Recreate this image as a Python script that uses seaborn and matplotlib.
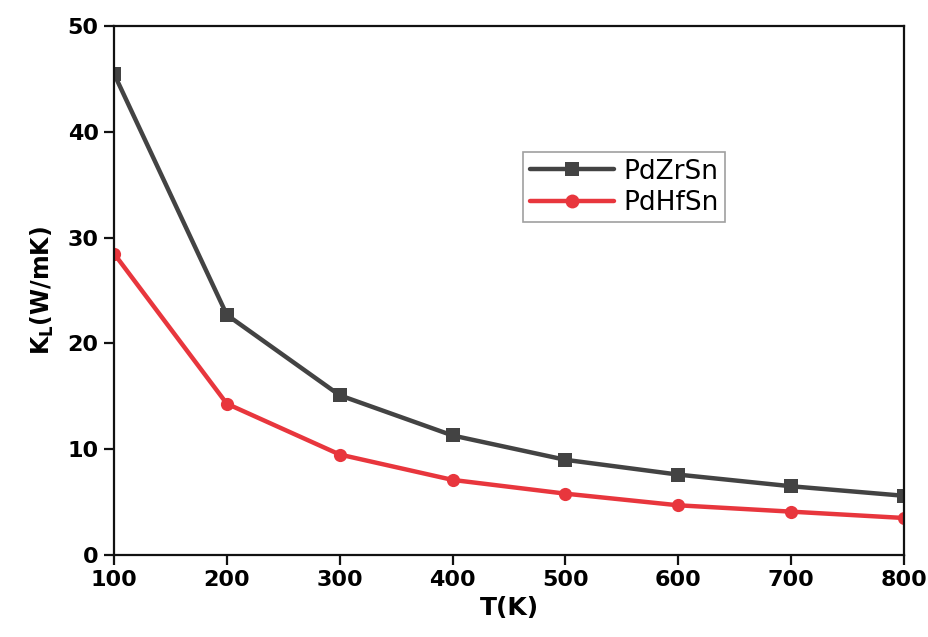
import matplotlib
matplotlib.use("Agg")
import matplotlib.pyplot as plt
import seaborn as sns
import pandas as pd

# Lattice thermal conductivity vs temperature
temperature = [100, 200, 300, 400, 500, 600, 700, 800]
kl_pdzrsn = [45.5, 22.7, 15.1, 11.3, 9.0, 7.6, 6.5, 5.6]
kl_pdhfsn = [28.5, 14.3, 9.5, 7.1, 5.8, 4.7, 4.1, 3.5]
series_names = ["PdZrSn", "PdHfSn"]

df = pd.DataFrame({
    "T": temperature * 2,
    "KL": kl_pdzrsn + kl_pdhfsn,
    "compound": [series_names[0]] * len(temperature) + [series_names[1]] * len(temperature),
})

sns.set_theme(style="ticks")
plt.rcParams["font.family"] = ["DejaVu Sans"]
plt.rcParams["mathtext.fontset"] = "dejavusans"
plt.rcParams["text.color"] = "black"
plt.rcParams["axes.labelcolor"] = "black"

fig = plt.figure(figsize=(9.29, 6.37), dpi=100)
ax = fig.add_axes([0.1227, 0.1287, 0.8503, 0.8304])

palette = {"PdZrSn": "#434343", "PdHfSn": "#e8363d"}
sns.lineplot(data=df, x="T", y="KL", hue="compound", style="compound",
             markers={"PdZrSn": "s", "PdHfSn": "o"}, dashes=False,
             palette=palette, linewidth=3.2, markersize=9.5,
             markeredgewidth=0, ax=ax)

ax.set_xlim(100, 800)
ax.set_ylim(0, 50)
ax.set_xticks(temperature)
ax.set_yticks([0, 10, 20, 30, 40, 50])
for side in ["top", "right", "left", "bottom"]:
    ax.spines[side].set_visible(True)
    ax.spines[side].set_linewidth(1.6)
    ax.spines[side].set_color("#111111")
ax.tick_params(axis="both", direction="out", length=7, width=1.6,
               labelsize=16, pad=4, colors="#111111", labelcolor="black")
for lab in ax.get_xticklabels() + ax.get_yticklabels():
    lab.set_fontweight("bold")

ax.set_xlabel("T(K)", fontsize=18, fontweight="bold", labelpad=4)
ax.set_ylabel(r"$\mathbf{K_L}$(W/mK)", fontsize=17, fontweight="bold", labelpad=8)

leg = ax.legend(loc="upper left", bbox_to_anchor=(0.518, 0.762), fontsize=19,
                frameon=True, fancybox=False, handlelength=3.2,
                borderpad=0.25, labelspacing=0.2, handletextpad=0.35,
                borderaxespad=0)
leg.get_frame().set_edgecolor("#888888")
leg.get_frame().set_linewidth(1.2)
for txt in leg.get_texts():
    txt.set_color("black")
for line in leg.get_lines():
    line.set_markersize(10)

fig.savefig("out.png", dpi=100)
